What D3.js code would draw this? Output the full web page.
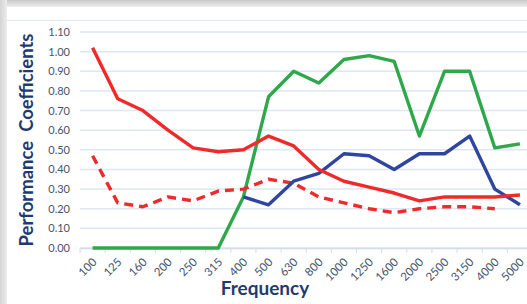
<!DOCTYPE html>
<html><head><meta charset="utf-8">
<script src="https://cdn.jsdelivr.net/npm/d3@7"></script>
<style>body{margin:0;background:#fff;}svg{display:block;}</style>
</head><body>
<svg id="c" width="527" height="304"></svg>
<script>
const categories = ["100","125","160","200","250","315","400","500","630","800","1000","1250","1600","2000","2500","3150","4000","5000"];
const redSolid  = [1.02,0.76,0.70,0.60,0.51,0.49,0.50,0.57,0.52,0.40,0.34,0.31,0.28,0.24,0.26,0.26,0.26,0.27];
const redDashed = [0.47,0.23,0.21,0.26,0.24,0.29,0.30,0.35,0.33,0.26,0.23,0.20,0.18,0.20,0.21,0.21,0.20,null];
const blue      = [null,null,null,null,null,null,0.26,0.22,0.34,0.38,0.48,0.47,0.40,0.48,0.48,0.57,0.30,0.22];
const green     = [0,0,0,0,0,0,0.26,0.77,0.90,0.84,0.96,0.98,0.95,0.57,0.90,0.90,0.51,0.53];
const yTicks = [0,0.1,0.2,0.3,0.4,0.5,0.6,0.7,0.8,0.9,1.0,1.1];

const svg = d3.select("#c");
const defs = svg.append("defs");
const gt = defs.append("linearGradient").attr("id","gt").attr("x1",0).attr("y1",0).attr("x2",0).attr("y2",1);
gt.append("stop").attr("offset","0%").attr("stop-color","#c9c9c9");
gt.append("stop").attr("offset","100%").attr("stop-color","#eeeeee");
const gl = defs.append("linearGradient").attr("id","gl").attr("x1",0).attr("y1",0).attr("x2",1).attr("y2",0);
gl.append("stop").attr("offset","0%").attr("stop-color","#d4d4d4");
gl.append("stop").attr("offset","100%").attr("stop-color","#ececec");
svg.append("rect").attr("x",0).attr("y",0).attr("width",527).attr("height",7).attr("fill","url(#gt)");
svg.append("rect").attr("x",0).attr("y",0).attr("width",7).attr("height",304).attr("fill","url(#gl)");
svg.append("line").attr("x1",7).attr("x2",527).attr("y1",20.5).attr("y2",20.5).attr("stroke","#dce6f4").attr("stroke-width",1);

const x = d3.scaleBand().domain(categories).range([80,532.5]);
const y = d3.scaleLinear().domain([0,1.1]).range([248,32]);
const font = "Lato, 'Open Sans', sans-serif";

// gridlines
svg.append("g").selectAll("line").data(yTicks).join("line")
  .attr("x1",80).attr("x2",532).attr("y1",d=>y(d)).attr("y2",d=>y(d))
  .attr("stroke","#dde6f3").attr("stroke-width",1.5);

// y labels
svg.append("g").selectAll("text").data(yTicks).join("text")
  .attr("x",70).attr("y",d=>y(d)+4).attr("text-anchor","end")
  .attr("font-family",font).attr("font-size",11)
  .attr("fill","#44546a").text(d=>d.toFixed(2));

// x axis
const xAxis = svg.append("g").attr("transform","translate(0,248)")
  .call(d3.axisBottom(x).tickSize(0).tickFormat(d=>d));
xAxis.select(".domain").attr("stroke","#d0dced").attr("stroke-width",1.5);
xAxis.selectAll(".tick text").attr("font-family",font).attr("font-size",11.5)
  .attr("fill","#44546a").attr("text-anchor","end")
  .attr("x",0).attr("y",0).attr("dx",0).attr("dy","0.35em")
  .attr("transform","translate(2,12) rotate(-45)");
const bounds = categories.map(c=>x(c)).concat([x(categories[categories.length-1])+x.bandwidth()]);
svg.append("g").selectAll("line").data(bounds).join("line")
  .attr("x1",d=>d).attr("x2",d=>d).attr("y1",248).attr("y2",253)
  .attr("stroke","#d0dced").attr("stroke-width",1);

const line = d3.line().defined(d=>d[1]!==null).x(d=>x(d[0])+x.bandwidth()/2).y(d=>y(d[1]));
function draw(vals,color,dash){
  svg.append("path").datum(categories.map((c,i)=>[c,vals[i]]))
    .attr("d",line).attr("fill","none").attr("stroke",color).attr("stroke-width",3.4)
    .attr("stroke-linejoin","round").attr("stroke-dasharray",dash||null);
}
draw(green,"#2ea84a");
draw(redDashed,"#ee2a2a","9,6");
draw(blue,"#2f46a0");
draw(redSolid,"#ee2a2a");

svg.append("text").attr("transform","translate(33,140) rotate(-90)").attr("text-anchor","middle")
  .attr("font-family",font).attr("font-weight","bold").attr("font-size",18.5)
  .attr("fill","#1f3b6e").attr("xml:space","preserve").style("white-space","pre").text("Performance  Coefficients");
svg.append("text").attr("x",265).attr("y",295).attr("text-anchor","middle")
  .attr("font-family",font).attr("font-weight","bold").attr("font-size",19)
  .attr("fill","#1f3b6e").text("Frequency");
</script>
</body></html>
